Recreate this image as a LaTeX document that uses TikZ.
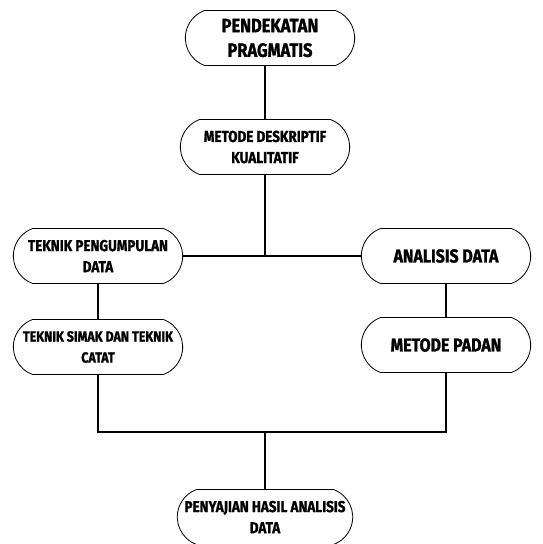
\documentclass[tikz,border=0pt]{standalone}
\usepackage{fontspec}
\setmainfont[FakeStretch=0.85, BoldFeatures={FakeBold=1.2}]{Fira Sans}
\usetikzlibrary{shapes.misc}
\begin{document}
\begin{tikzpicture}[x=0.03cm, y=-0.03cm,
  rect/.style={shape=rounded rectangle, rounded rectangle arc length=140, draw=black, line width=0.7pt, fill=white, align=center, minimum width=5.22cm, minimum height=1.65cm, inner sep=2pt, font=\bfseries\fontsize{13.5}{18}\selectfont},
  conn/.style={line width=1.3pt}]
	\useasboundingbox (0,0) rectangle (542,544);
	\node (prag) at (270,38) [rect, font=\bfseries\fontsize{16.5}{21}\selectfont] {PENDEKATAN\\PRAGMATIS};
	\node (desk) at (265,147) [rect] {METODE DESKRIPTIF\\KUALITATIF};
	\node (kump) at (98,256) [rect] {TEKNIK PENGUMPULAN\\DATA};
	\node (anal) at (446,256) [rect, font=\bfseries\fontsize{16}{20}\selectfont] {ANALISIS DATA};
	\node (simak) at (98,347) [rect, font=\bfseries\fontsize{12.5}{18}\selectfont] {TEKNIK SIMAK DAN TEKNIK\\CATAT};
	\node (padan) at (446,345) [rect, font=\bfseries\fontsize{16}{20}\selectfont] {METODE PADAN};
	\node (saji) at (265,517) [rect] {PENYAJIAN HASIL ANALISIS\\DATA};
	\coordinate (j1) at (265,256);
	\coordinate (j2) at (265,432);
	\draw [conn] (desk.north) -- (desk.north |- prag.south);
	\draw [conn] (desk.south) -- (j1);
	\draw [conn] (kump.east) -- (anal.west);
	\draw [conn] (kump.south) -- (simak.north);
	\draw [conn] (anal.south) -- (padan.north);
	\draw [conn] (simak.south) |- (j2) -| (padan.south);
	\draw [conn] (j2) -- (saji.north);
\end{tikzpicture}
\end{document}
